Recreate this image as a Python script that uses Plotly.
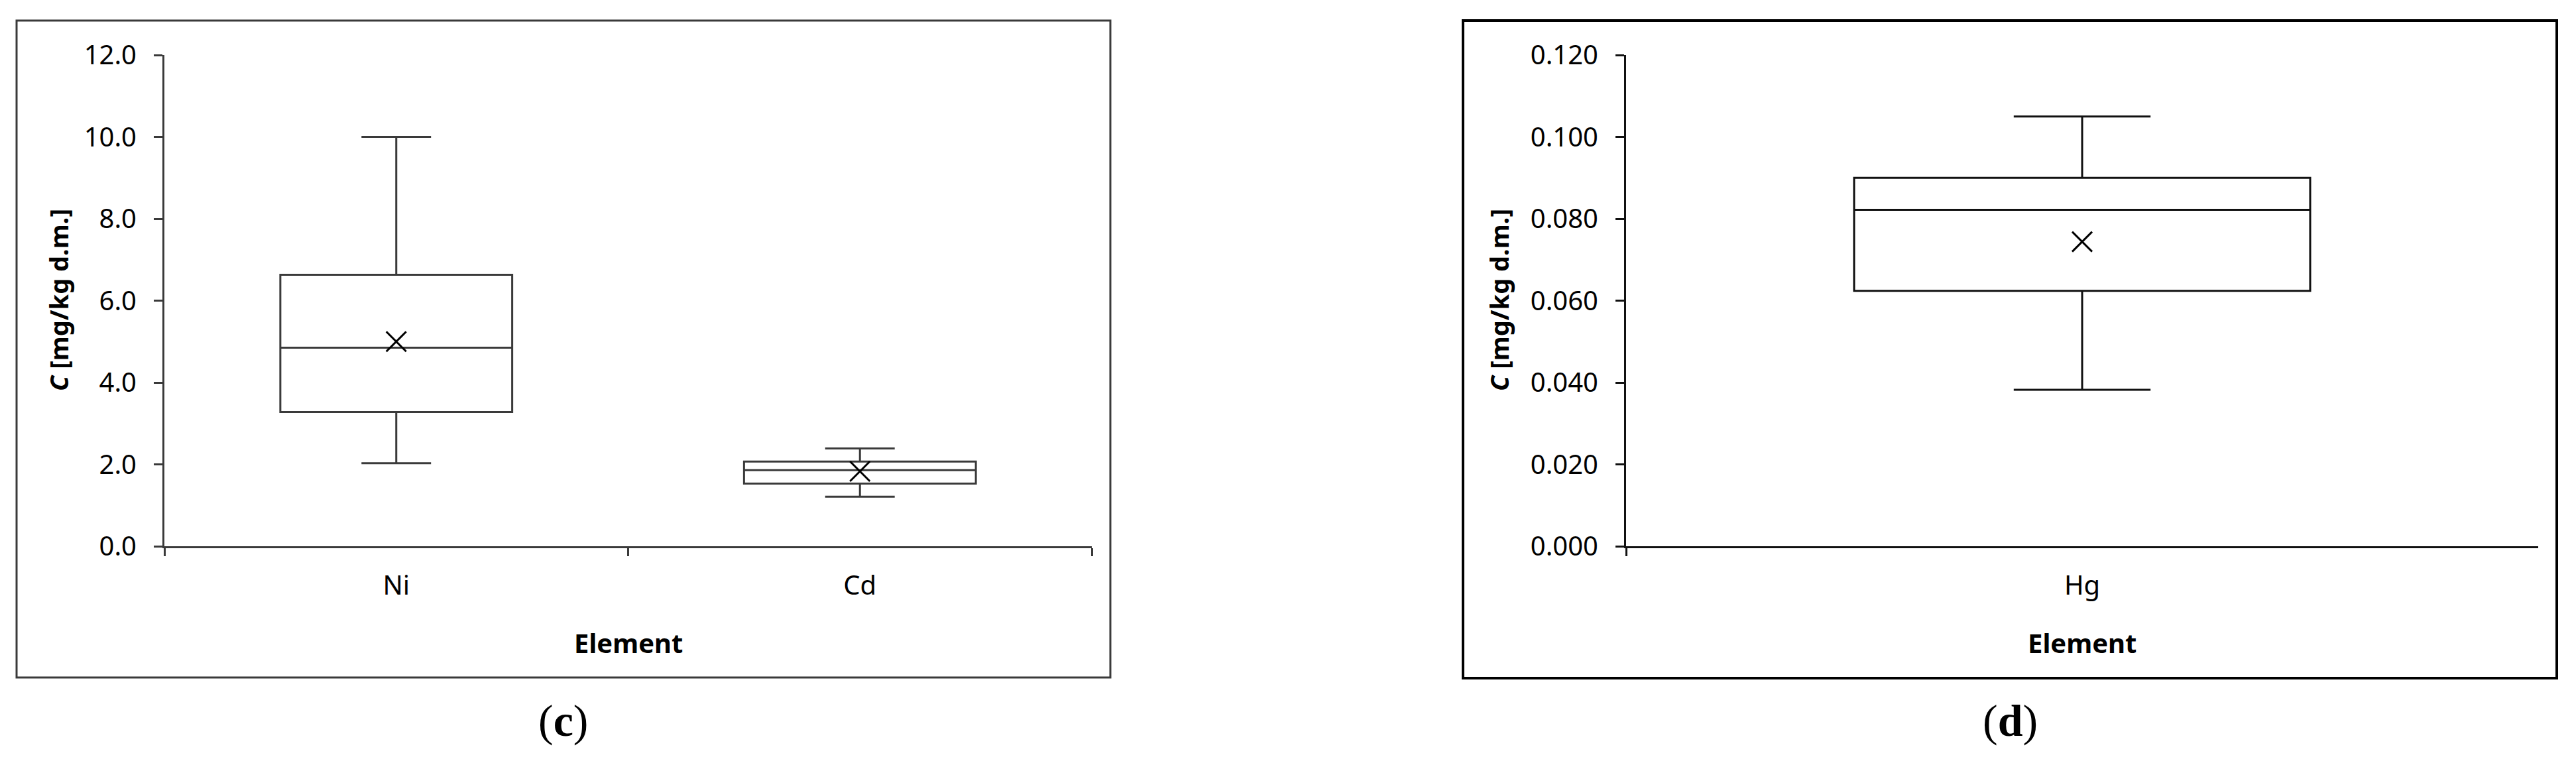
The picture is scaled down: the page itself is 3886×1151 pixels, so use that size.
import plotly.graph_objects as go

# ---- data ----
elements_c = ["Ni", "Cd"]
lower_c = [2.03, 1.21]
q1_c = [3.28, 1.53]
median_c = [4.85, 1.86]
q3_c = [6.63, 2.07]
upper_c = [10.0, 2.39]
mean_c = [5.0, 1.83]

elements_d = ["Hg"]
lower_d = [0.0382]
q1_d = [0.0624]
median_d = [0.0822]
q3_d = [0.0900]
upper_d = [0.1050]
mean_d = [0.0744]

y_title = "<b><i>C</i> [mg/kg d.m.]</b>"
x_title = "<b>Element</b>"
captions = ["(<b>c</b>)", "(<b>d</b>)"]

# page body has an 8px margin, so the figure is drawn 8px in from the window edge
OFF = 8
W, H = 3886 - 2 * OFF, 1151 - 2 * OFF
FONT = "Noto Sans, Liberation Sans, sans-serif"
LC = "#3a3a3a"
RC = "#111111"

def px(x):
    return (x - OFF) / W

def py(y):
    return 1 - (y - OFF) / H

fig = go.Figure()

fig.add_trace(go.Box(
    x=elements_c, q1=q1_c, median=median_c, q3=q3_c,
    lowerfence=lower_c, upperfence=upper_c,
    width=0.5, whiskerwidth=0.3, fillcolor="white",
    line=dict(color=LC, width=3), boxpoints=False,
    xaxis="x", yaxis="y", showlegend=False))
fig.add_trace(go.Scatter(
    x=elements_c, y=mean_c, mode="markers",
    marker=dict(symbol="x-thin-open", size=30, color="#000", line=dict(color="#000", width=3)),
    xaxis="x", yaxis="y", showlegend=False))

fig.add_trace(go.Box(
    x=elements_d, q1=q1_d, median=median_d, q3=q3_d,
    lowerfence=lower_d, upperfence=upper_d,
    width=0.5, whiskerwidth=0.3, fillcolor="white",
    line=dict(color=RC, width=3), boxpoints=False,
    xaxis="x2", yaxis="y2", showlegend=False))
fig.add_trace(go.Scatter(
    x=elements_d, y=mean_d, mode="markers",
    marker=dict(symbol="x-thin-open", size=30, color="#000", line=dict(color="#000", width=3)),
    xaxis="x2", yaxis="y2", showlegend=False))

y_dom = [py(824), py(83)]
axis_common = dict(showgrid=False, zeroline=False, showline=True, linewidth=3, automargin=False,
                   ticks="outside", tickwidth=3, tickfont=dict(family=FONT, size=40, color="#000"))

fig.update_layout(
    width=W, height=H, margin=dict(l=0, r=0, t=0, b=0, pad=0),
    paper_bgcolor="white", plot_bgcolor="white", boxmode="overlay",
    xaxis=dict(domain=[px(248), px(1647)], anchor="y", type="category",
               range=[-0.5, 1.5], tickson="boundaries", ticklen=12,
               linecolor=LC, tickcolor=LC, ticklabelstandoff=22, **axis_common),
    yaxis=dict(domain=y_dom, anchor="x", range=[0, 12], dtick=2, tickformat=".1f",
               ticklen=13, linecolor=LC, tickcolor=LC, ticklabelstandoff=18, **axis_common),
    xaxis2=dict(domain=[px(2453), px(3829)], anchor="y2", type="category",
                range=[-0.5, 0.5], tickson="boundaries", ticklen=12,
                linecolor=RC, tickcolor=RC, ticklabelstandoff=22, **axis_common),
    yaxis2=dict(domain=y_dom, anchor="x2", range=[0, 0.12], dtick=0.02, tickformat=".3f",
                ticklen=13, linecolor=RC, tickcolor=RC, ticklabelstandoff=18, **axis_common),
)

# panel borders
fig.add_shape(type="rect", xref="paper", yref="paper",
              x0=px(25), x1=px(1675), y0=py(1022), y1=py(31),
              line=dict(color=LC, width=3), layer="below")
fig.add_shape(type="rect", xref="paper", yref="paper",
              x0=px(2207), x1=px(3857), y0=py(1023), y1=py(31),
              line=dict(color="#000", width=4), layer="below")

ann_font = dict(family=FONT, size=38, color="#000")
# x titles
for xc in (948, 3141):
    fig.add_annotation(x=px(xc), y=py(969), xref="paper", yref="paper",
                       text=x_title, showarrow=False, font=dict(family=FONT, size=40, color="#000"),
                       xanchor="center", yanchor="middle")
# y titles
for xc in (88, 2261):
    fig.add_annotation(x=px(xc), y=py(453), xref="paper", yref="paper",
                       text=y_title, showarrow=False, textangle=-90, font=ann_font,
                       xanchor="center", yanchor="middle")
# captions
for xc, cap in zip((850, 3032), captions):
    fig.add_annotation(x=px(xc), y=py(1087), xref="paper", yref="paper",
                       text=cap, showarrow=False,
                       font=dict(family="Liberation Serif, serif", size=68, color="#000"),
                       xanchor="center", yanchor="middle")

fig.write_html("out.html")
